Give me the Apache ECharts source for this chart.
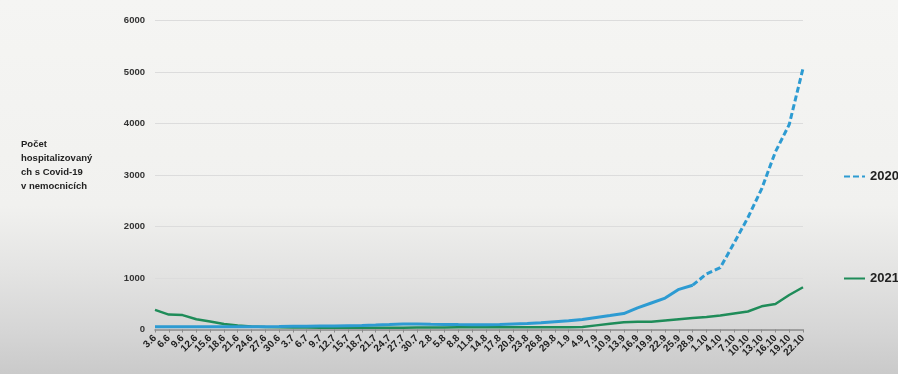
<!DOCTYPE html>
<html>
<head>
<meta charset="utf-8">
<script src="https://cdn.jsdelivr.net/npm/echarts@6/dist/echarts.min.js"></script>
<style>
  html, body { margin: 0; padding: 0; }
  body {
    width: 898px; height: 374px; overflow: hidden;
    background: linear-gradient(to bottom, #f5f5f3 0%, #f1f1ef 55%, #e4e4e3 72%, #d6d6d6 88%, #cacaca 100%);
  }
  #chart { width: 898px; height: 374px; }
</style>
</head>
<body>
<div id="chart"></div>
<script>
// Dates shown on the x axis (every third day, 3.6 – 22.10)
const dates = ['3.6','6.6','9.6','12.6','15.6','18.6','21.6','24.6','27.6','30.6',
  '3.7','6.7','9.7','12.7','15.7','18.7','21.7','24.7','27.7','30.7',
  '2.8','5.8','8.8','11.8','14.8','17.8','20.8','23.8','26.8','29.8',
  '1.9','4.9','7.9','10.9','13.9','16.9','19.9','22.9','25.9','28.9',
  '1.10','4.10','7.10','10.10','13.10','16.10','19.10','22.10'];

// Hospitalised patients with Covid-19, 2020
const values2020 = [55,55,54,53,52,52,52,53,55,
  58,62,65,68,70,74,78,85,95,107,
  105,100,98,95,93,93,95,105,115,130,
  150,170,195,235,270,310,420,515,610,780,
  860,1080,1200,1680,2170,2730,3450,3980,5070];

// Hospitalised patients with Covid-19, 2021
const values2021 = [380,290,280,200,155,105,78,60,50,45,
  40,38,35,33,32,32,33,35,36,38,
  40,40,42,42,43,44,45,45,45,45,
  45,50,80,110,140,150,150,175,200,225,
  245,270,310,350,450,495,670,820];

const yTicks = [0, 1000, 2000, 3000, 4000, 5000, 6000];

// The 2020 line is drawn solid over the flat stretch and dashed where it climbs
const dashFrom = 39;
const solid2020 = values2020.map((v, i) => (i <= dashFrom ? v : null));
const dashed2020 = values2020.map((v, i) => (i >= dashFrom ? v : null));

const BLUE = '#2d9bd2';
const GREEN = '#1f8c59';
const FONT = 'Liberation Sans, Arial, sans-serif';

// Legend entries: plain line sample, no marker
function legendFor(name, top) {
  return {
    data: [name], left: 843, top: top, orient: 'vertical', padding: 0,
    itemWidth: 21, itemHeight: 3,
    itemStyle: { opacity: 0 },
    textStyle: { fontFamily: FONT, fontWeight: 'bold', fontSize: 13, color: '#222' }
  };
}

const chart = echarts.init(document.getElementById('chart'), null, { renderer: 'canvas' });

chart.setOption({
  backgroundColor: 'transparent',
  animation: false,
  grid: { left: 155, right: 95, top: 20.5, bottom: 44.5, containLabel: false },
  legend: [legendFor('2020', 170), legendFor('2021', 272)],
  graphic: [{
    type: 'text', left: 21, top: 138,
    style: {
      text: 'Počet\nhospitalizovaný\nch s Covid-19\nv nemocnicích',
      fontFamily: FONT, fontWeight: 'bold', fontSize: 9.5, lineHeight: 13.7,
      fill: '#222'
    }
  }],
  xAxis: {
    type: 'category', data: dates, boundaryGap: false,
    axisLine: { lineStyle: { color: '#8a8a8a', width: 1.5 } },
    axisTick: { show: true, length: 3, interval: 0, lineStyle: { color: '#8a8a8a' } },
    axisLabel: {
      interval: 0, rotate: 45, margin: 7, hideOverlap: false,
      fontFamily: FONT, fontWeight: 'bold', fontSize: 10, color: '#222'
    },
    splitLine: { show: false }
  },
  yAxis: {
    type: 'value', min: yTicks[0], max: yTicks[yTicks.length - 1], interval: 1000,
    axisLine: { show: false }, axisTick: { show: false },
    axisLabel: {
      margin: 10, fontFamily: FONT, fontWeight: 'bold', fontSize: 9.5, color: '#333',
      formatter: v => (yTicks.includes(v) ? String(v) : '')
    },
    splitLine: { lineStyle: { color: '#dcdcdc', width: 1 } }
  },
  series: [
    {
      name: '2020', type: 'line', data: dashed2020, symbol: 'none', z: 3,
      lineStyle: { color: BLUE, width: 3, type: [6, 3] },
      itemStyle: { color: BLUE }
    },
    {
      name: '2020', type: 'line', data: solid2020, symbol: 'none', z: 3,
      lineStyle: { color: BLUE, width: 3 },
      itemStyle: { color: BLUE }
    },
    {
      name: '2021', type: 'line', data: values2021, symbol: 'none', z: 2,
      lineStyle: { color: GREEN, width: 2.5 },
      itemStyle: { color: GREEN }
    }
  ]
});
</script>
</body>
</html>
